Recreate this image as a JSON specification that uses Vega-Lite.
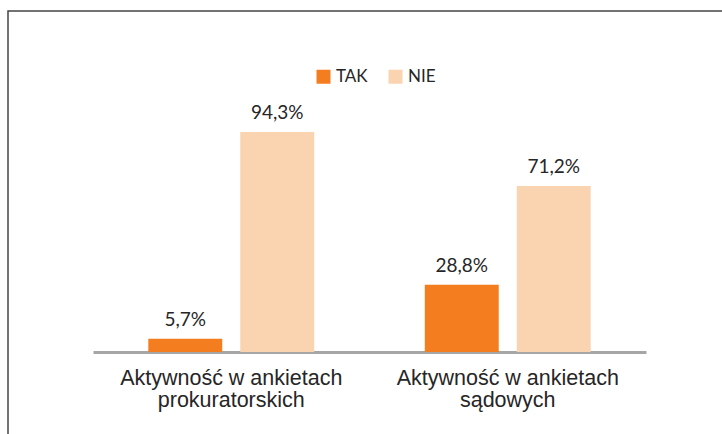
{
  "$schema": "https://vega.github.io/schema/vega-lite/v6.json",
  "autosize": {"type": "none"},
  "padding": {"left": 8, "top": 11, "right": 0, "bottom": 0},
  "width": 714,
  "height": 423,
  "background": "white",
  "config": {
    "view": {"stroke": "#444444", "strokeWidth": 1.5, "strokeDash": [714, 1137, 423, 1000]},
    "font": "Liberation Sans"
  },
  "data": {
    "values": [
      {"kat": "Aktywność w ankietach prokuratorskich", "odp": "TAK", "v": 5.7, "lab": "5,7%"},
      {"kat": "Aktywność w ankietach prokuratorskich", "odp": "NIE", "v": 94.3, "lab": "94,3%"},
      {"kat": "Aktywność w ankietach sądowych", "odp": "TAK", "v": 28.8, "lab": "28,8%"},
      {"kat": "Aktywność w ankietach sądowych", "odp": "NIE", "v": 71.2, "lab": "71,2%"}
    ]
  },
  "encoding": {
    "x": {
      "field": "kat",
      "type": "nominal",
      "sort": null,
      "scale": {"range": [85, 638], "paddingInner": 0.4, "paddingOuter": 0.2},
      "axis": {
        "title": null,
        "orient": "bottom",
        "offset": -82,
        "labelAngle": 0,
        "ticks": false,
        "domainColor": "#A6A6A6",
        "domainWidth": 3,
        "labelFont": "Liberation Sans",
        "labelFontSize": 21.5,
        "labelColor": "#262626",
        "labelPadding": 15,
        "labelLineHeight": 22,
        "labelLimit": 0,
        "labelExpr": "[slice(datum.label, 0, 21), slice(datum.label, 22)]"
      }
    },
    "xOffset": {
      "field": "odp",
      "type": "nominal",
      "sort": ["TAK", "NIE"],
      "scale": {"paddingInner": 0.196, "paddingOuter": 0}
    },
    "y": {
      "field": "v",
      "type": "quantitative",
      "scale": {"domain": [0, 100], "range": [341, 107.7], "nice": false, "zero": true},
      "axis": null
    }
  },
  "layer": [
    {
      "mark": {"type": "bar"},
      "encoding": {
        "color": {
          "field": "odp",
          "type": "nominal",
          "sort": ["TAK", "NIE"],
          "scale": {"domain": ["TAK", "NIE"], "range": ["#F47D20", "#FAD3B0"]},
          "legend": {
            "title": null,
            "orient": "none",
            "direction": "horizontal",
            "legendX": 307,
            "legendY": 57,
            "padding": 0,
            "symbolType": "square",
            "symbolSize": 196,
            "symbolStrokeWidth": 0,
            "labelFont": "Lato",
            "labelFontSize": 17,
            "labelColor": "#262626",
            "labelOffset": 4,
            "columnPadding": 19
          }
        }
      }
    },
    {
      "mark": {"type": "text", "baseline": "alphabetic", "dy": -13, "font": "Lato", "fontSize": 19, "color": "#262626"},
      "encoding": {"text": {"field": "lab"}}
    }
  ]
}
